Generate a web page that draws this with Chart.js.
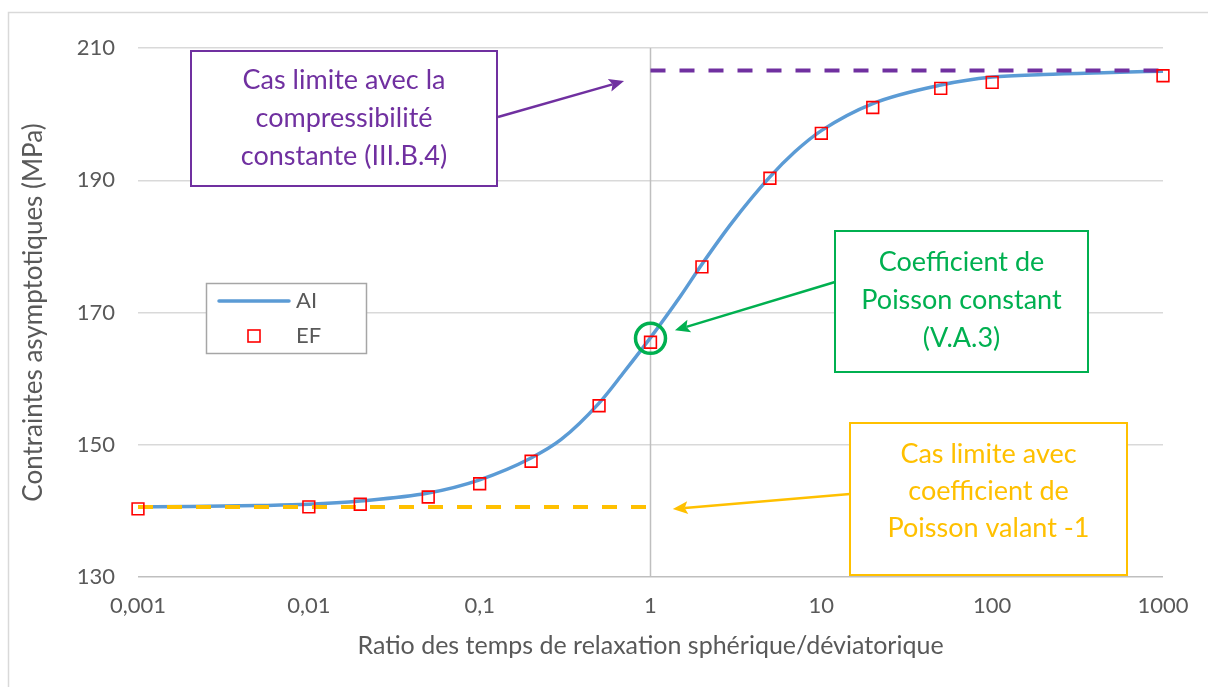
<!DOCTYPE html>
<html><head><meta charset="utf-8">
<script src="https://cdn.jsdelivr.net/npm/chart.js@4"></script>
<style>html,body{margin:0;padding:0;background:#fff;}#wrap{position:relative;width:1208px;height:687px;}</style>
</head><body><div id="wrap"><canvas id="c" width="1208" height="687"></canvas></div>
<script>
// ---- data ----
const aiX = [0.001, 0.002, 0.005, 0.01, 0.02, 0.05, 0.1, 0.2, 0.3, 0.5, 0.7, 1, 1.5, 2, 3, 5, 7, 10, 20, 50, 100, 200, 500, 1000];
const aiY = [140.6, 140.65, 140.8, 141.0, 141.5, 142.7, 144.7, 148.0, 150.8, 156.3, 161.0, 166.2, 172.5, 177.3, 183.6, 190.5, 194.3, 197.5, 201.6, 204.4, 205.6, 206.0, 206.3, 206.5];
const efX = [0.001, 0.01, 0.02, 0.05, 0.1, 0.2, 0.5, 1, 2, 5, 10, 20, 50, 100, 1000];
const efY = [140.3, 140.6, 141.0, 142.1, 144.1, 147.5, 155.9, 165.5, 176.9, 190.3, 197.1, 201.0, 203.9, 204.8, 205.8];
const xTicks = [0.001, 0.01, 0.1, 1, 10, 100, 1000];
const xTickLabels = ['0,001', '0,01', '0,1', '1', '10', '100', '1000'];
const yTicks = [130, 150, 170, 190, 210];
const purpleLimitX = [1, 1000];
const purpleLimitY = 206.6;
const yellowLimitX = [0.001, 1];
const yellowLimitY = 140.6;
const markedPoint = [1, 166.1];
const seriesNames = ['AI', 'EF'];
const xTitle = 'Ratio des temps de relaxation sphérique/déviatorique';
const yTitle = 'Contraintes asymptotiques (MPa)';

// ---- annotations (layout) ----
const FONT = 'Lato, "Liberation Sans", sans-serif';
const notes = [
  {lines: ['Cas limite avec la', 'compressibilité', 'constante (III.B.4)'], color: '#7030A0',
   box: [191, 51, 306, 135], textY: 80, lh: 38, tail: [498, 117], head: [0.70, 205.0]},
  {lines: ['Coefficient de', 'Poisson constant', '(V.A.3)'], color: '#00B050',
   box: [835, 231, 253, 141], textY: 262, lh: 38, tail: [835, 282], head: [1.39, 167.3]},
  {lines: ['Cas limite avec', 'coefficient de', 'Poisson valant -1'], color: '#FFC000',
   box: [850, 423, 277, 152], textY: 454, lh: 37, tail: [850, 494], head: [1.35, 140.3]}
];

const pts = (xs, ys) => xs.map((x, i) => ({x, y: ys[i]}));

function arrow(ctx, x1, y1, x2, y2, color) {
  const a = Math.atan2(y2 - y1, x2 - x1), L = 15, W = 6.5;
  const bx = x2 - L * Math.cos(a), by = y2 - L * Math.sin(a);
  ctx.save();
  ctx.strokeStyle = color; ctx.fillStyle = color; ctx.lineWidth = 2.5;
  ctx.beginPath(); ctx.moveTo(x1, y1); ctx.lineTo(bx + 3 * Math.cos(a), by + 3 * Math.sin(a)); ctx.stroke();
  ctx.beginPath(); ctx.moveTo(x2, y2);
  ctx.lineTo(bx + W * Math.sin(a), by - W * Math.cos(a));
  ctx.lineTo(bx + 3 * Math.cos(a), by + 3 * Math.sin(a));
  ctx.lineTo(bx - W * Math.sin(a), by + W * Math.cos(a));
  ctx.closePath(); ctx.fill();
  ctx.restore();
}

const decor = {
  id: 'decor',
  beforeDraw(chart) {
    const ctx = chart.ctx;
    ctx.save();
    ctx.fillStyle = '#fff'; ctx.fillRect(0, 0, chart.width, chart.height);
    ctx.strokeStyle = '#D9D9D9'; ctx.lineWidth = 1.5;
    ctx.beginPath(); ctx.moveTo(8.5, 687); ctx.lineTo(8.5, 12.5); ctx.lineTo(1208, 12.5); ctx.stroke();
    ctx.restore();
  },
  afterDatasetsDraw(chart) {
    const ctx = chart.ctx, xs = chart.scales.x, ys = chart.scales.y;
    notes.forEach(n => {
      ctx.save();
      const [bx, by, bw, bh] = n.box;
      ctx.fillStyle = '#fff'; ctx.fillRect(bx, by, bw, bh);
      ctx.strokeStyle = n.color; ctx.lineWidth = 2; ctx.strokeRect(bx, by, bw, bh);
      ctx.fillStyle = n.color; ctx.font = '27px ' + FONT;
      ctx.textAlign = 'center'; ctx.textBaseline = 'middle';
      n.lines.forEach((t, i) => ctx.fillText(t, bx + bw / 2, n.textY + i * n.lh));
      ctx.restore();
      arrow(ctx, n.tail[0], n.tail[1], xs.getPixelForValue(n.head[0]), ys.getPixelForValue(n.head[1]), n.color);
    });
    // legend
    ctx.save();
    ctx.fillStyle = '#fff'; ctx.fillRect(206.5, 283.5, 160, 70);
    ctx.strokeStyle = '#A6A6A6'; ctx.lineWidth = 1.5; ctx.strokeRect(206.5, 283.5, 160, 70);
    ctx.strokeStyle = '#5B9BD5'; ctx.lineWidth = 3.5; ctx.lineCap = 'round';
    ctx.beginPath(); ctx.moveTo(219, 301); ctx.lineTo(289, 301); ctx.stroke();
    ctx.strokeStyle = '#FF0000'; ctx.lineWidth = 1.6;
    ctx.strokeRect(248, 330, 12, 12);
    ctx.fillStyle = '#595959'; ctx.font = '22px ' + FONT; ctx.textBaseline = 'middle'; ctx.textAlign = 'left';
    ctx.fillText(seriesNames[0], 296, 301);
    ctx.fillText(seriesNames[1], 296, 336);
    ctx.restore();
  }
};

new Chart(document.getElementById('c'), {
  type: 'scatter',
  data: {
    datasets: [
      {label: 'v', data: [{x: 1, y: 130}, {x: 1, y: 210}], showLine: true, borderColor: '#BFBFBF', borderWidth: 1.5, pointRadius: 0, order: 6},
      {label: seriesNames[0], data: pts(aiX, aiY), showLine: true, borderColor: '#5B9BD5', borderWidth: 3.5,
       cubicInterpolationMode: 'monotone', pointRadius: 0, order: 5},
      {label: 'yl', data: yellowLimitX.map(x => ({x, y: yellowLimitY})), showLine: true, borderColor: '#FFC000',
       borderWidth: 4, borderDash: [15, 14], pointRadius: 0, order: 3},
      {label: 'pl', data: purpleLimitX.map(x => ({x, y: purpleLimitY})), showLine: true, borderColor: '#7030A0',
       borderWidth: 4, borderDash: [15, 14], pointRadius: 0, order: 2},
      {label: seriesNames[1], data: pts(efX, efY), showLine: false, pointStyle: 'rect', pointRadius: 8.3, clip: false,
       pointBorderWidth: 1.6, pointBorderColor: '#FF0000', pointBackgroundColor: 'rgba(0,0,0,0)', order: 1},
      {label: 'c', data: [{x: markedPoint[0], y: markedPoint[1]}], showLine: false, pointStyle: 'circle', pointRadius: 15, clip: false,
       pointBorderWidth: 3.5, pointBorderColor: '#00B050', pointBackgroundColor: 'rgba(0,0,0,0)', order: 0}
    ]
  },
  options: {
    responsive: false, animation: false, devicePixelRatio: 1,
    layout: {padding: {left: 0, right: 45, top: 48, bottom: 0}},
    plugins: {legend: {display: false}, tooltip: {enabled: false}},
    scales: {
      x: {
        type: 'logarithmic', min: 0.001, max: 1000,
        afterBuildTicks: s => { s.ticks = xTicks.map(v => ({value: v})); },
        afterFit: s => { s.height = 110; s.paddingLeft = 0; s.paddingRight = 0; s.paddingTop = 0; s.paddingBottom = 0; },
        ticks: {autoSkip: false, maxRotation: 0, padding: 16, color: '#595959', font: {family: FONT, size: 22},
          callback: v => xTickLabels[xTicks.indexOf(v)]},
        grid: {display: false, drawTicks: false},
        border: {display: false},
        title: {display: true, text: xTitle, color: '#595959', font: {family: FONT, size: 25}, padding: {top: 0, bottom: 26}}
      },
      y: {
        min: 130, max: 210,
        afterBuildTicks: s => { s.ticks = yTicks.map(v => ({value: v})); },
        afterFit: s => { s.width = 138; s.paddingLeft = 0; s.paddingRight = 0; s.paddingTop = 0; s.paddingBottom = 0; },
        ticks: {padding: 23, color: '#595959', font: {family: FONT, size: 22}},
        grid: {drawTicks: false, lineWidth: 1.5, color: c => c.tick && c.tick.value === 130 ? '#BFBFBF' : '#D9D9D9'},
        border: {display: false},
        title: {display: true, text: yTitle, color: '#595959', font: {family: FONT, size: 26}, padding: {top: 18, bottom: 0}}
      }
    }
  },
  plugins: [decor]
});
</script></body></html>
